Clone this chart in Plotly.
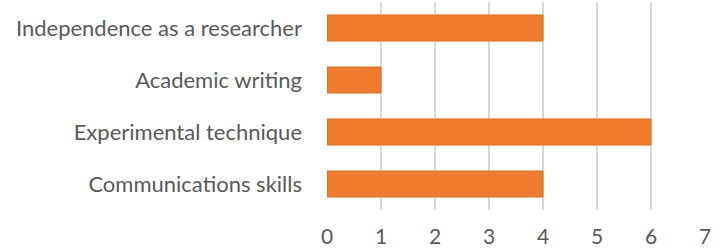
import plotly.graph_objects as go

categories = ["Communications skills", "Experimental technique", "Academic writing", "Independence as a researcher"]
values = [4, 6, 1, 4]
x_ticks = [0, 1, 2, 3, 4, 5, 6, 7]

fig = go.Figure()
fig.add_trace(go.Bar(
    y=categories, x=values, orientation="h", width=0.5,
    marker=dict(color="#EF7B2D", line=dict(color="#DD6E1E", width=1)),
))
fig.update_layout(
    width=723, height=251,
    margin=dict(l=327, r=18, t=2, b=41),
    paper_bgcolor="white", plot_bgcolor="white",
    font=dict(family="Lato, Open Sans, sans-serif", size=22, color="#595959"),
    showlegend=False,
    bargap=0.5,
)
fig.update_xaxes(range=[0, 7], tickvals=x_ticks, showgrid=True, gridcolor="#D9D9D9", gridwidth=1.5,
                 zeroline=False, showline=False, ticks="", ticklabelstandoff=12,
                 automargin=False, tickfont=dict(size=21))
fig.update_yaxes(showgrid=False, ticks="", ticklabelstandoff=24, showline=False, automargin=False)
fig.write_html("out.html", config={"displayModeBar": False},
               post_script="document.body.style.margin='0';document.body.style.padding='0';")
